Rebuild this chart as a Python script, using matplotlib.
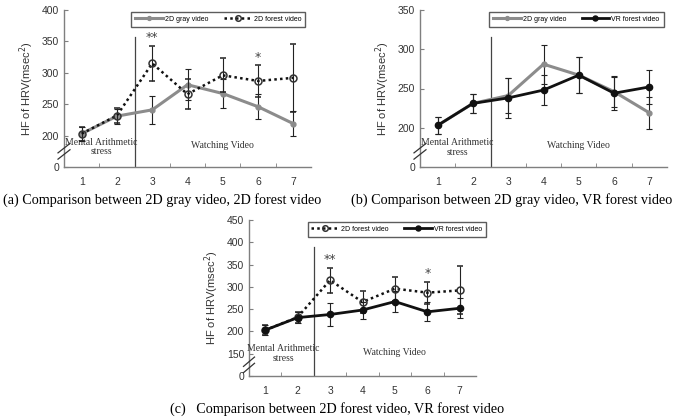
import matplotlib.pyplot as plt
from matplotlib.lines import Line2D

stages = [1, 2, 3, 4, 5, 6, 7]

gray_mean = [203, 231, 241, 281, 267, 246, 219]
gray_err = [11, 12, 22, 25, 23, 20, 20]
forest2d_mean = [203, 232, 315, 266, 296, 287, 292]
forest2d_err = [11, 12, 28, 24, 27, 25, 54]
vr_mean = [203, 231, 238, 248, 267, 244, 252]
vr_err = [11, 12, 25, 19, 23, 21, 22]

captions = ['(a) Comparison between 2D gray video, 2D forest video',
            '(b) Comparison between 2D gray video, VR forest video',
            '(c)   Comparison between 2D forest video, VR forest video']

GRAY = '#8c8c8c'
AXC = '#7f7f7f'

STYLE = {
    'gray': dict(color=GRAY, lw=2.2, marker='o', ms=3.5, mfc=GRAY, mec=GRAY),
    'f2d': dict(color='#111111', lw=1.8, ls=(0, (1, 1.3)), marker='o', ms=5,
                mfc='none', mec='#333333', mew=1.1),
    'vr': dict(color='#111111', lw=2.0, marker='o', ms=4.5, mfc='#111111',
               mec='#111111'),
}
EB = dict(ecolor='#222222', elinewidth=0.8, capsize=2.5, capthick=0.8)


def series(ax, key, mean, err):
    ax.errorbar(stages, mean, yerr=err, zorder=3 if key == 'gray' else 4,
                **STYLE[key], **EB)


def setup(ax, ymin, ymax, yticks, line_top, text_y, break_y):
    ax.set_xlim(0.5, 7.5)
    ax.set_ylim(ymin, ymax)
    ax.set_xticks(stages)
    ax.set_xticks([1.5, 2.5, 3.5, 4.5, 5.5, 6.5], minor=True)
    ax.set_yticks([ymin] + yticks)
    ax.set_yticklabels(['0'] + [str(t) for t in yticks])
    for s in ['top', 'right']:
        ax.spines[s].set_visible(False)
    for s in ['left', 'bottom']:
        ax.spines[s].set_color(AXC)
        ax.spines[s].set_linewidth(1.0)
    ax.tick_params(axis='x', which='major', length=0, pad=7)
    ax.tick_params(axis='x', which='minor', direction='in', length=3, color=AXC)
    ax.tick_params(axis='y', direction='in', length=3, color=AXC)
    ax.tick_params(labelsize=7.5, labelcolor='#333333')
    for lab in ax.get_xticklabels() + ax.get_yticklabels():
        lab.set_fontfamily('Liberation Sans')
    ax.set_ylabel('HF of HRV(msec$^2$)', fontsize=8, family='Liberation Sans',
                  color='#333333', labelpad=4)
    ax.plot([2.5, 2.5], [ymin, line_top], color='#444444', lw=0.9, zorder=2)
    ax.text(1.55, text_y, 'Mental Arithmetic\nstress', ha='center', va='center',
            fontsize=7, family='Liberation Serif', color='#333333',
            linespacing=1.1)
    ax.text(5.0, text_y + 2, 'Watching Video', ha='center', va='center',
            fontsize=7, family='Liberation Serif', color='#333333')
    # axis break mark
    dy = (ymax - ymin) * 0.02
    for off in [-dy, dy]:
        ax.plot([0.33, 0.67], [break_y + off - dy * 1.5, break_y + off + dy * 1.5],
                color='#333333', lw=0.9, clip_on=False, zorder=5)


def legend(ax, keys, labels, anchor):
    handles = []
    for k in keys:
        st = dict(STYLE[k])
        st['ms'] = st['ms'] * 0.8
        handles.append(Line2D([], [], **st))
    ax.legend(handles, labels, loc='upper right', bbox_to_anchor=anchor,
              ncol=2, frameon=True, fancybox=False, edgecolor='#333333',
              handlelength=4.0, columnspacing=2.2, borderpad=0.55,
              handletextpad=0.3, prop={'family': 'Liberation Sans', 'size': 5})


fig = plt.figure(figsize=(6.78, 4.18), dpi=100)

# (a)
ax1 = fig.add_axes([64 / 678, 1 - 167 / 418, 247 / 678, 157 / 418])
series(ax1, 'gray', gray_mean, gray_err)
series(ax1, 'f2d', forest2d_mean, forest2d_err)
setup(ax1, 150, 400, [200, 250, 300, 350, 400], 357, 182, 175)
ax1.text(3, 356, '**', ha='center', va='center', fontsize=9, color='#444444')
ax1.text(6, 324, '*', ha='center', va='center', fontsize=9, color='#444444')
legend(ax1, ['gray', 'f2d'], ['2D gray video', '2D forest video'], (0.99, 1.01))

# (b)
ax2 = fig.add_axes([420 / 678, 1 - 167 / 418, 247 / 678, 157 / 418])
series(ax2, 'gray', gray_mean, gray_err)
series(ax2, 'vr', vr_mean, vr_err)
setup(ax2, 150, 350, [200, 250, 300, 350], 315, 175, 170)
legend(ax2, ['gray', 'vr'], ['2D gray video', 'VR forest video'], (1.0, 1.01))

# (c)
ax3 = fig.add_axes([249 / 678, 1 - 376 / 418, 227 / 678, 156 / 418])
series(ax3, 'f2d', forest2d_mean, forest2d_err)
series(ax3, 'vr', vr_mean, vr_err)
setup(ax3, 100, 450, [150, 200, 250, 300, 350, 400, 450], 390, 150, 125)
ax3.text(3, 362, '**', ha='center', va='center', fontsize=9, color='#444444')
ax3.text(6, 330, '*', ha='center', va='center', fontsize=9, color='#444444')
legend(ax3, ['f2d', 'vr'], ['2D forest video', 'VR forest video'], (1.06, 1.01))

fig.text(3 / 678, 1 - 200 / 418, captions[0], fontsize=10.2,
         family='Liberation Serif', va='center', ha='left')
fig.text(351 / 678, 1 - 200 / 418, captions[1], fontsize=10.2,
         family='Liberation Serif', va='center', ha='left')
fig.text(170 / 678, 1 - 409 / 418, captions[2], fontsize=10.2,
         family='Liberation Serif', va='center', ha='left')

fig.savefig('out.png', dpi=100)
